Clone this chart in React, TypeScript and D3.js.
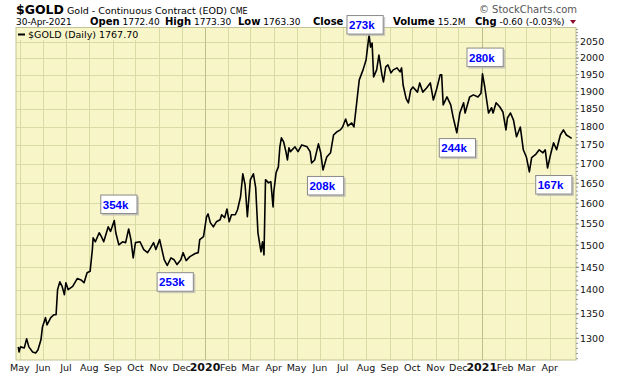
import React from 'react';
import * as d3 from 'd3';

const dates = [
  '2019-04-29','2019-04-30','2019-05-02','2019-05-07','2019-05-10','2019-05-13','2019-05-18','2019-05-22','2019-05-25','2019-05-29',
  '2019-05-31','2019-06-04','2019-06-06','2019-06-11','2019-06-15','2019-06-18','2019-06-20','2019-06-23','2019-06-26','2019-06-29',
  '2019-07-01','2019-07-04','2019-07-10','2019-07-16','2019-07-21','2019-07-25','2019-07-29','2019-08-02','2019-08-05','2019-08-06',
  '2019-08-09','2019-08-14','2019-08-17','2019-08-20','2019-08-26','2019-08-29','2019-09-03','2019-09-05','2019-09-09','2019-09-14',
  '2019-09-18','2019-09-22','2019-09-25','2019-09-28','2019-10-01','2019-10-07','2019-10-12','2019-10-17','2019-10-21','2019-10-25',
  '2019-10-28','2019-11-02','2019-11-05','2019-11-08','2019-11-12','2019-11-17','2019-11-21','2019-11-25','2019-11-30','2019-12-03',
  '2019-12-07','2019-12-12','2019-12-19','2019-12-23','2019-12-25','2019-12-30','2020-01-03','2020-01-05','2020-01-08','2020-01-12',
  '2020-01-16','2020-01-21','2020-01-23','2020-01-27','2020-01-30','2020-02-02','2020-02-05','2020-02-10','2020-02-13','2020-02-17',
  '2020-02-20','2020-02-23','2020-02-26','2020-03-01','2020-03-05','2020-03-08','2020-03-11','2020-03-15','2020-03-17','2020-03-19',
  '2020-03-21','2020-03-25','2020-03-28','2020-03-31','2020-04-01','2020-04-04','2020-04-07','2020-04-09','2020-04-11','2020-04-14',
  '2020-04-17','2020-04-19','2020-04-21','2020-04-23','2020-04-29','2020-05-03','2020-05-08','2020-05-15','2020-05-19','2020-05-21',
  '2020-05-25','2020-05-30','2020-06-02','2020-06-05','2020-06-10','2020-06-15','2020-06-19','2020-06-23','2020-06-28','2020-07-01',
  '2020-07-05','2020-07-08','2020-07-13','2020-07-16','2020-07-20','2020-07-23','2020-07-28','2020-08-01','2020-08-03','2020-08-05',
  '2020-08-07','2020-08-09','2020-08-11','2020-08-15','2020-08-18','2020-08-22','2020-08-24','2020-08-27','2020-08-30','2020-09-03',
  '2020-09-06','2020-09-11','2020-09-15','2020-09-17','2020-09-19','2020-09-23','2020-09-26','2020-09-29','2020-10-02','2020-10-08',
  '2020-10-11','2020-10-15','2020-10-20','2020-10-25','2020-10-29','2020-11-02','2020-11-07','2020-11-09','2020-11-11','2020-11-16',
  '2020-11-21','2020-11-24','2020-11-29','2020-12-03','2020-12-08','2020-12-10','2020-12-16','2020-12-21','2020-12-27','2020-12-31',
  '2021-01-02','2021-01-05','2021-01-10','2021-01-14','2021-01-16','2021-01-20','2021-01-25','2021-01-29','2021-02-02','2021-02-04',
  '2021-02-08','2021-02-12','2021-02-16','2021-02-21','2021-02-25','2021-03-01','2021-03-05','2021-03-08','2021-03-13','2021-03-18',
  '2021-03-23','2021-03-26','2021-03-29','2021-04-02','2021-04-06','2021-04-10','2021-04-15','2021-04-19','2021-04-23','2021-04-30'
];

const closes = [
  1283,1273,1283,1281,1299,1283,1273,1271,1277,1297,
  1323,1342,1327,1342,1348,1348,1401,1418,1408,1390,
  1416,1401,1408,1425,1422,1416,1438,1441,1490,1517,
  1508,1529,1520,1508,1543,1532,1558,1529,1501,1508,
  1506,1538,1513,1471,1506,1508,1490,1483,1494,1506,
  1490,1513,1490,1467,1454,1471,1467,1456,1467,1483,
  1465,1474,1481,1483,1513,1520,1567,1574,1553,1543,
  1555,1560,1572,1565,1586,1555,1572,1572,1584,1616,
  1674,1646,1567,1659,1674,1639,1529,1485,1508,1478,
  1659,1651,1654,1591,1629,1677,1692,1745,1769,1758,
  1732,1710,1742,1732,1745,1732,1750,1745,1732,1702,
  1710,1753,1729,1684,1718,1729,1777,1785,1791,1799,
  1821,1802,1810,1799,1875,1934,1964,1994,2034,2072,
  2034,2047,1943,1964,2009,1949,1928,1973,1979,1955,
  1964,1970,1958,1970,1919,1879,1867,1904,1913,1898,
  1925,1898,1910,1925,1875,1904,1949,1949,1861,1884,
  1861,1828,1783,1838,1867,1838,1884,1890,1884,1895,
  1952,1913,1838,1853,1838,1867,1855,1841,1791,1824,
  1838,1818,1772,1799,1737,1718,1679,1716,1724,1737,
  1729,1737,1689,1724,1756,1737,1777,1791,1777,1767.7
];

const yTicks = [1300, 1350, 1400, 1450, 1500, 1550, 1600, 1650, 1700, 1750, 1800, 1850, 1900, 1950, 2000, 2050];

const annotLabels = ['354k', '253k', '208k', '273k', '280k', '244k', '167k'];
const annotDates = ['2019-09-03', '2019-11-12', '2020-06-05', '2020-08-05', '2021-01-02', '2020-11-29', '2021-03-29'];
const annotPrices = [1558, 1454, 1684, 2072, 1952, 1783, 1689];
const annotDx = [-14, -10.6, -16, -22.6, -16, -18, -12.3];
const annotDy = [-26, 6.7, 6, -20, -26.3, 5.3, 7];

const PLOT_BG = '#f8f6c8';
const GRID = '#d9dba6';
const YEAR_GRID = '#b9c08a';
const FONT = '"DejaVu Sans", Verdana, sans-serif';

export default function App() {
  const parse = d3.timeParse('%Y-%m-%d');
  const data = dates.map((d, i) => ({ date: parse(d) as Date, v: closes[i] }));
  const left = 16, right = 576, top = 27.5, bottom = 360;
  const x = d3.scaleTime().domain([new Date(2019, 3, 26), new Date(2021, 4, 5, 16)]).range([left, right]);
  const y = d3.scaleLog().domain([1257.4, 2096.2]).range([bottom, top]);
  const line = d3.line<{ date: Date; v: number }>().x(d => x(d.date)).y(d => y(d.v));
  const months = d3.timeMonth.range(new Date(2019, 4, 1), new Date(2021, 4, 1));
  const fmtMonth = d3.timeFormat('%b');
  const fmtYear = d3.timeFormat('%Y');
  const minor: number[] = d3.range(1260, 2100, 10);

  return (
    <svg width={620} height={376} style={{ position: 'absolute', left: 0, top: 0, background: '#fff' }}
      fontFamily={FONT}>
      <rect x={0} y={0} width={620} height={376} fill="#fff" />
      <rect x={left} y={top} width={right - left} height={bottom - top} fill={PLOT_BG} />
      {yTicks.map(t => (
        <line key={'h' + t} x1={left} x2={right} y1={Math.round(y(t)) + 0.5} y2={Math.round(y(t)) + 0.5} stroke={GRID} strokeWidth={1} />
      ))}
      {months.map(m => (
        <line key={'v' + m.getTime()} x1={Math.round(x(m)) + 0.5} x2={Math.round(x(m)) + 0.5} y1={top} y2={bottom}
          stroke={m.getMonth() === 0 ? YEAR_GRID : GRID} strokeWidth={1} />
      ))}
      <rect x={left} y={top} width={right - left} height={bottom - top} fill="none" stroke="#c2c394" strokeWidth={1} />
      {minor.map(t => (
        <line key={'m' + t} x1={right} x2={right + 2} y1={y(t)} y2={y(t)} stroke="#999" strokeWidth={1} />
      ))}
      {yTicks.map(t => (
        <g key={'yl' + t}>
          <line x1={right} x2={right + 3} y1={y(t)} y2={y(t)} stroke="#888" strokeWidth={1} />
          <text x={580} y={y(t)} dy="0.35em" fontSize={9.5} fill="#111">{t}</text>
        </g>
      ))}
      {months.map(m => (
        <text key={'xl' + m.getTime()} x={x(m)} y={371} textAnchor="middle"
          fontSize={m.getMonth() === 0 ? 11 : 9.5} fontWeight={m.getMonth() === 0 ? 'bold' : 'normal'} fill="#111">
          {m.getMonth() === 0 ? fmtYear(m) : fmtMonth(m)}
        </text>
      ))}
      <path d={line(data) || ''} fill="none" stroke="#000" strokeWidth={1.6} strokeLinejoin="round" />

      {/* legend */}
      <rect x={left + 1} y={top + 0.5} width={142} height={12} fill={PLOT_BG} />
      <line x1={18} x2={25} y1={34.5} y2={34.5} stroke="#000" strokeWidth={2} />
      <text x={28} y={38} fontSize={9.5} fill="#000">$GOLD (Daily) 1767.70</text>

      {/* header */}
      <text x={16} y={14} fill="#000">
        <tspan fontSize={12.5} fontWeight="bold">$GOLD</tspan>
        <tspan fontSize={9.5}> Gold - Continuous Contract (EOD) </tspan>
        <tspan fontSize={8}>CME</tspan>
      </text>
      <text x={16} y={25} fontSize={9} fill="#000">30-Apr-2021</text>
      <text x={90} y={25} fontSize={9} fill="#000"><tspan fontWeight="bold" fontSize={10}>Open</tspan> 1772.40</text>
      <text x={165} y={25} fontSize={9} fill="#000"><tspan fontWeight="bold" fontSize={10}>High</tspan> 1773.30</text>
      <text x={238} y={25} fontSize={9} fill="#000"><tspan fontWeight="bold" fontSize={10}>Low</tspan> 1763.30</text>
      <text x={313} y={25} fontSize={9} fill="#000"><tspan fontWeight="bold" fontSize={10}>Close</tspan> 1767.70</text>
      <text x={393} y={25} fontSize={9} fill="#000"><tspan fontWeight="bold" fontSize={10}>Volume</tspan> 15.2M</text>
      <text x={475} y={25} fontSize={9} fill="#000"><tspan fontWeight="bold" fontSize={10}>Chg</tspan> -0.60 (-0.03%)</text>
      <path d="M570,20 L576,20 L573,24 Z" fill="#8b0a2a" />
      <text x={577} y={13} textAnchor="end" fontSize={10} fill="#555">© StockCharts.com</text>

      {/* annotations */}
      {annotLabels.map((lab, i) => {
        const px = x(parse(annotDates[i]) as Date) + annotDx[i];
        const py = y(annotPrices[i]) + annotDy[i];
        return (
          <g key={lab}>
            <rect x={px + 2} y={py + 2} width={36.7} height={19} fill="#b5b5b5" opacity={0.7} />
            <rect x={px + 0.5} y={py + 0.5} width={36.2} height={18.5} fill="#fff" stroke="#8a8a8a" strokeWidth={1} />
            <text x={px + 2.5} y={py + 14} fontFamily='"Liberation Sans", Arial, sans-serif' fontWeight="bold" fontSize={11.5} fill="#0000ff">{lab}</text>
          </g>
        );
      })}
    </svg>
  );
}
